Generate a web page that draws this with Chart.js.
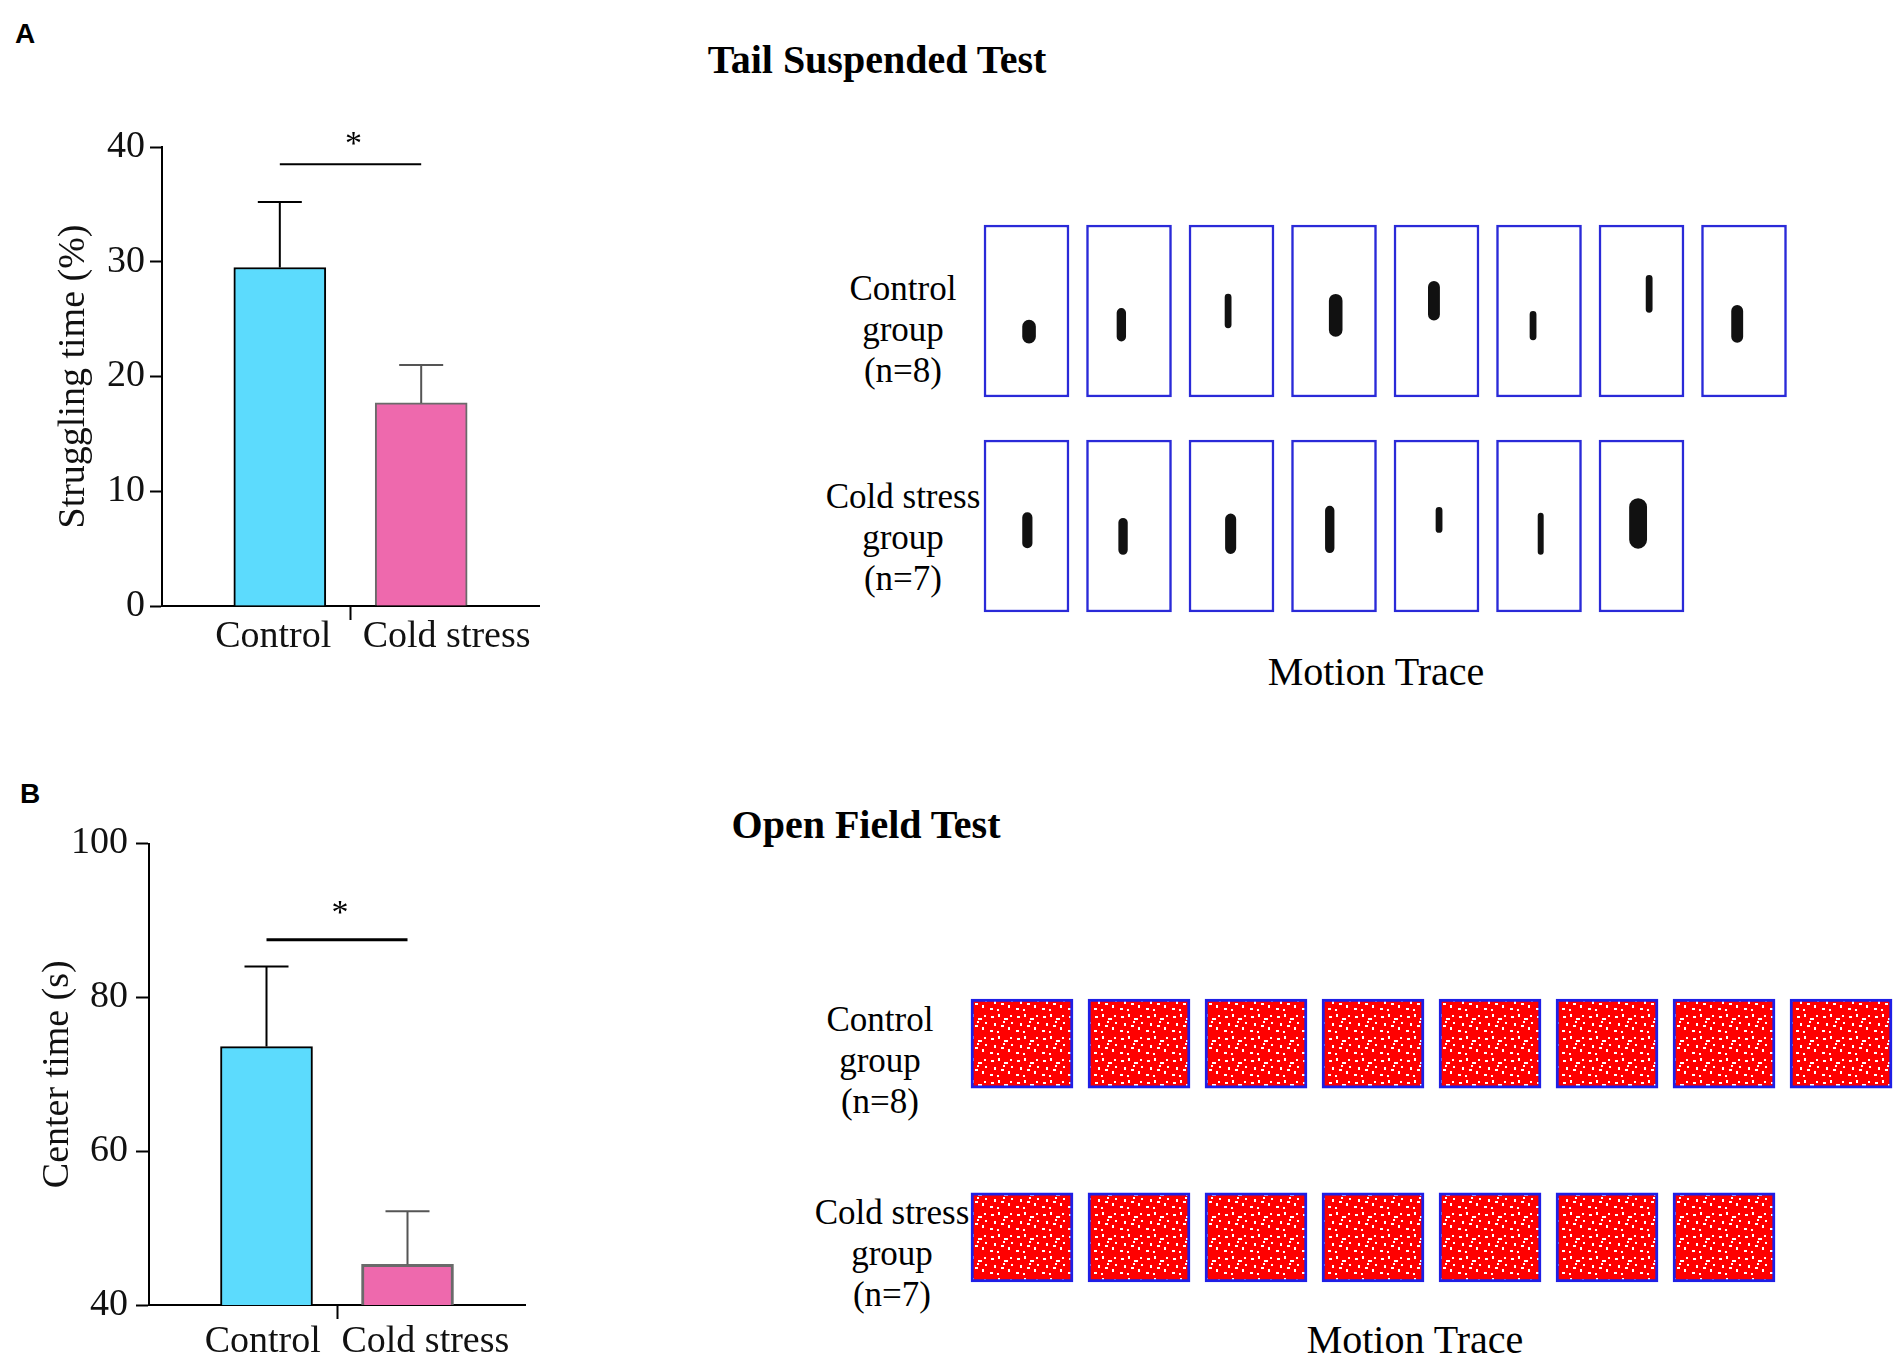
<!DOCTYPE html>
<html>
<head>
<meta charset="utf-8">
<script src="https://cdn.jsdelivr.net/npm/chart.js@4.4.1/dist/chart.umd.min.js"></script>
<style>
html, body { margin: 0; padding: 0; background: #fff; }
#page { position: relative; width: 1904px; height: 1358px; overflow: hidden; background: #fff;
        font-family: "Liberation Serif", "Times New Roman", serif; color: #000; }
canvas { position: absolute; }
.txt { position: absolute; white-space: nowrap; line-height: 1; }
.panel { font-family: "Liberation Sans", Arial, sans-serif; font-weight: bold; font-size: 28px; }
.title { font-weight: bold; font-size: 40px; transform: translateX(-50%); }
.group { font-size: 35px; line-height: 41px; text-align: center; transform: translateX(-50%); }
.trace { font-size: 40px; transform: translateX(-50%); }
</style>
</head>
<body>
<div id="page">
  <div class="txt panel" style="left:15px; top:20px">A</div>
  <div class="txt panel" style="left:20px; top:780px">B</div>
  <div class="txt title" style="left:877px; top:40px">Tail Suspended Test</div>
  <div class="txt title" style="left:866px; top:805px">Open Field Test</div>

  <div class="txt group" style="left:903px; top:268px">Control<br>group<br>(n=8)</div>
  <div class="txt group" style="left:903px; top:476px">Cold stress<br>group<br>(n=7)</div>
  <div class="txt trace" style="left:1376px; top:652px">Motion Trace</div>

  <div class="txt group" style="left:880px; top:999px">Control<br>group<br>(n=8)</div>
  <div class="txt group" style="left:892px; top:1192px">Cold stress<br>group<br>(n=7)</div>
  <div class="txt trace" style="left:1415px; top:1320px">Motion Trace</div>

  <canvas id="barA" width="580" height="680" style="left:0; top:0"></canvas>
  <canvas id="barB" width="560" height="658" style="left:0; top:700px"></canvas>
  <canvas id="traceA" width="836" height="403" style="left:976px; top:217px"></canvas>
  <canvas id="traceB" width="938" height="299" style="left:963px; top:991px"></canvas>
</div>

<script>
// bar values
const groups = ['Control', 'Cold stress'];
const strugglingMean = [29.5, 17.7];
const strugglingSem = [5.7, 3.3];
const centerMean = [73.6, 45.3];
const centerSem = [10.4, 6.9];

// tail suspension motion traces, one entry per animal:
// blob centre (x) and its top / bottom, as fractions of the box, plus its horizontal spread
const tstControlX = [0.53, 0.41, 0.46, 0.52, 0.47, 0.43, 0.59, 0.42];
const tstControlTop = [0.59, 0.51, 0.42, 0.44, 0.36, 0.52, 0.31, 0.50];
const tstControlBottom = [0.65, 0.65, 0.58, 0.61, 0.52, 0.65, 0.49, 0.65];
const tstControlSpread = [0.16, 0.11, 0.08, 0.16, 0.14, 0.08, 0.08, 0.14];
const tstColdX = [0.51, 0.43, 0.49, 0.45, 0.53, 0.52, 0.46];
const tstColdTop = [0.45, 0.48, 0.46, 0.41, 0.41, 0.44, 0.39];
const tstColdBottom = [0.60, 0.64, 0.63, 0.63, 0.52, 0.65, 0.58];
const tstColdSpread = [0.12, 0.11, 0.13, 0.11, 0.08, 0.07, 0.21];

// open field: number of animals per group
const oftControlN = 8;
const oftColdN = 7;

const FONT = '"Liberation Serif", "Times New Roman", serif';
Chart.defaults.font.family = FONT;
Chart.defaults.color = '#111';
Chart.defaults.animation = false;

const barPos = i => 1.25 + i * 1.5;   // bar centres on a 0..4 x axis, divider tick at 2

const errorBars = {
  id: 'errorBars',
  afterDatasetsDraw(chart, args, o) {
    const { ctx, scales: { y } } = chart;
    const bars = chart.getDatasetMeta(0).data;
    ctx.save();
    bars.forEach((bar, i) => {
      const yTop = y.getPixelForValue(o.mean[i] + o.sem[i]);
      ctx.strokeStyle = o.colors[i];
      ctx.lineWidth = 2;
      ctx.beginPath();
      ctx.moveTo(bar.x, y.getPixelForValue(o.mean[i]));
      ctx.lineTo(bar.x, yTop);
      ctx.moveTo(bar.x - o.cap, yTop);
      ctx.lineTo(bar.x + o.cap, yTop);
      ctx.stroke();
    });
    // significance bracket
    const ly = y.getPixelForValue(o.sigAt);
    ctx.strokeStyle = '#000';
    ctx.lineWidth = o.sigWidth;
    ctx.beginPath();
    ctx.moveTo(bars[0].x, ly);
    ctx.lineTo(bars[1].x, ly);
    ctx.stroke();
    ctx.fillStyle = '#000';
    ctx.font = '34px ' + FONT;
    ctx.textAlign = 'center';
    ctx.textBaseline = 'alphabetic';
    ctx.fillText('*', (bars[0].x + bars[1].x) / 2 + 3, y.getPixelForValue(o.starAt));
    ctx.restore();
  }
};

function barChart(id, mean, sem, cfg) {
  const labelAt = cfg.labelAt;
  return new Chart(document.getElementById(id), {
    type: 'bar',
    data: {
      datasets: [{
        data: mean.map((v, i) => ({ x: barPos(i), y: v })),
        backgroundColor: ['#5cdbfd', '#ee69ad'],
        borderColor: ['#000000', '#6a6a6a'],
        borderWidth: cfg.borderWidth,
        borderSkipped: 'bottom',
        barThickness: 92
      }]
    },
    options: {
      responsive: false,
      layout: { padding: cfg.padding },
      plugins: {
        legend: { display: false },
        tooltip: { enabled: false },
        errorBars: {
          mean: mean, sem: sem, colors: ['#000000', '#555555'], cap: 22,
          sigAt: cfg.sigAt, starAt: cfg.starAt, sigWidth: cfg.sigWidth
        }
      },
      scales: {
        x: {
          type: 'linear', min: 0, max: 4, offset: false,
          afterFit: s => { s.height = cfg.xHeight; },
          afterBuildTicks: s => { s.ticks = [{ value: labelAt[0] }, { value: 2 }, { value: labelAt[1] }]; },
          border: { display: true, color: '#000', width: 2 },
          grid: {
            drawOnChartArea: false, offset: false, tickLength: 14, tickWidth: 2,
            tickColor: c => (c.tick && c.tick.value === 2 ? '#000' : 'rgba(0,0,0,0)')
          },
          ticks: {
            autoSkip: false, maxRotation: 0, padding: cfg.xPad,
            font: { size: 38 }, color: '#111',
            callback: v => { const i = labelAt.indexOf(v); return i < 0 ? '' : groups[i]; }
          }
        },
        y: {
          min: cfg.yMin, max: cfg.yMax,
          afterFit: s => { s.width = cfg.yWidth; },
          border: { display: true, color: '#000', width: 2 },
          grid: { drawOnChartArea: false, tickLength: cfg.tickLen, tickWidth: 2, tickColor: '#000' },
          ticks: { stepSize: cfg.step, padding: cfg.yPad, font: { size: 38 }, color: '#111' },
          title: { display: true, text: cfg.title, font: { size: 38 }, color: '#111', padding: { top: cfg.titlePad, bottom: 0 } }
        }
      }
    },
    plugins: [errorBars]
  });
}

barChart('barA', strugglingMean, strugglingSem, {
  padding: { top: 147, right: 41, left: 0, bottom: 0 },
  xHeight: 74, yWidth: 162, yMin: 0, yMax: 40, step: 10, tickLen: 12, yPad: 5, xPad: -6,
  labelAt: [1.18, 3.02],
  title: 'Struggling time (%)', titlePad: 51, borderWidth: 2,
  sigAt: 38.5, starAt: 39.4, sigWidth: 2
});

barChart('barB', centerMean, centerSem, {
  padding: { top: 143.5, right: 35, left: 0, bottom: 0 },
  xHeight: 53, yWidth: 149, yMin: 40, yMax: 100, step: 20, tickLen: 13, yPad: 8, xPad: 0,
  labelAt: [1.21, 2.94],
  title: 'Center time (s)', titlePad: 35, borderWidth: [2, 3],
  sigAt: 87.5, starAt: 89.6, sigWidth: 3
});

// motion trace panels: one unit on x = one box pitch, one unit on y = one box height
function boxes(count, bottom, top, frac) {
  return Array.from({ length: count }, (_, i) => ({ x: i + frac / 2, y: [bottom, top] }));
}

function blobs(xs, tops, bottoms, spreads, rowTop, frac) {
  return xs.map((bx, i) => ({
    type: 'line',
    data: [{ x: i + bx * frac, y: rowTop - tops[i] }, { x: i + bx * frac, y: rowTop - bottoms[i] }],
    borderColor: '#111',
    borderCapStyle: 'round',
    pointRadius: 0,
    clip: false,
    borderWidth: c => {
      const sx = c.chart.scales.x;
      return spreads[i] * frac * (sx.getPixelForValue(1) - sx.getPixelForValue(0));
    }
  }));
}

// speckled red fill, standing in for the dense open-field path
function trackFill() {
  const t = document.createElement('canvas');
  t.width = 26; t.height = 22;
  const g = t.getContext('2d');
  g.fillStyle = '#ff0000';
  g.fillRect(0, 0, 26, 22);
  g.fillStyle = '#ffffff';
  [[2, 3, 3, 2], [9, 1, 2, 3], [15, 5, 4, 2], [21, 2, 2, 2], [5, 10, 2, 3], [12, 12, 3, 2],
   [19, 14, 2, 3], [1, 17, 3, 2], [8, 18, 2, 2], [22, 9, 2, 2], [14, 8, 2, 2]]
    .forEach(r => g.fillRect(r[0], r[1], r[2], r[3]));
  return g.createPattern(t, 'repeat');
}

function traceChart(id, datasets, xMax, yMax) {
  return new Chart(document.getElementById(id), {
    type: 'bar',
    data: { datasets: datasets },
    options: {
      responsive: false,
      layout: { padding: 8 },
      plugins: { legend: { display: false }, tooltip: { enabled: false } },
      scales: {
        x: { type: 'linear', display: false, min: 0, max: xMax, offset: false, grid: { offset: false } },
        y: { display: false, min: 0, max: yMax }
      }
    }
  });
}

const tstFrac = 85 / 102.5;
const boxStyle = { borderSkipped: false, grouped: false, clip: false };
traceChart('traceA', [
  ...blobs(tstControlX, tstControlTop, tstControlBottom, tstControlSpread, 2.25, tstFrac),
  ...blobs(tstColdX, tstColdTop, tstColdBottom, tstColdSpread, 1, tstFrac),
  { ...boxStyle, data: boxes(tstControlX.length, 1.25, 2.25, tstFrac), backgroundColor: '#ffffff',
    borderColor: '#2a2ad8', borderWidth: 2.5, barThickness: 85 },
  { ...boxStyle, data: boxes(tstColdX.length, 0, 1, tstFrac), backgroundColor: '#ffffff',
    borderColor: '#2a2ad8', borderWidth: 2.5, barThickness: 85 }
], 8, 2.25);

const oftFrac = 102 / 117;
const redTrack = trackFill();
traceChart('traceB', [
  { ...boxStyle, data: boxes(oftControlN, 2.17, 3.17, oftFrac), backgroundColor: redTrack,
    borderColor: '#1f1fe6', borderWidth: 3, barThickness: 102 },
  { ...boxStyle, data: boxes(oftColdN, 0, 1, oftFrac), backgroundColor: redTrack,
    borderColor: '#1f1fe6', borderWidth: 3, barThickness: 102 }
], 7.88, 3.17);
</script>
</body>
</html>
